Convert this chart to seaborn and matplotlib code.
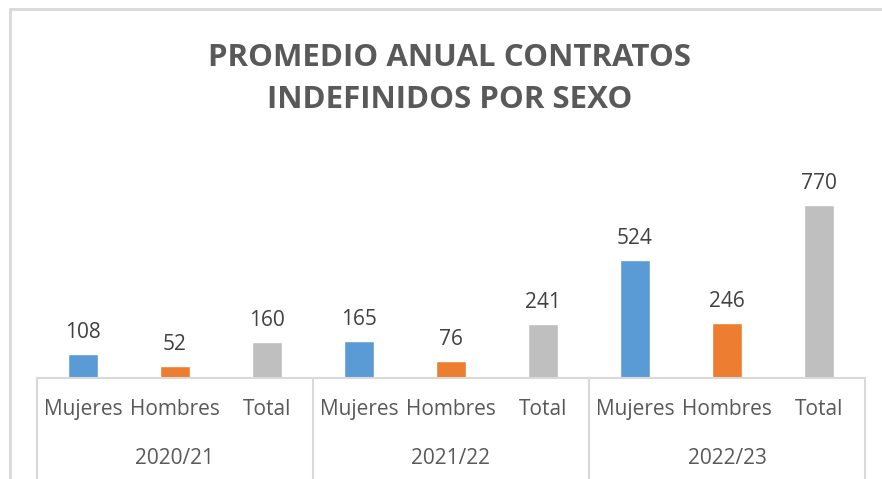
import matplotlib
matplotlib.use('Agg')
import matplotlib.pyplot as plt
import matplotlib.transforms as mtransforms
import seaborn as sns
import pandas as pd

periodos = ['2020/21', '2021/22', '2022/23']
sexos = ['Mujeres', 'Hombres', 'Total']
mujeres = [108, 165, 524]
hombres = [52, 76, 246]
totales = [160, 241, 770]
colores = {'Mujeres': '#5B9BD5', 'Hombres': '#ED7D31', 'Total': '#BFBFBF'}

rows = []
for i, p in enumerate(periodos):
    for s, v in zip(sexos, [mujeres[i], hombres[i], totales[i]]):
        rows.append({'periodo': p, 'sexo': s, 'clave': p + ' ' + s, 'valor': v})
df = pd.DataFrame(rows)

sns.set_style('white')
plt.rcParams['font.family'] = ['Open Sans', 'DejaVu Sans']

fig = plt.figure(figsize=(8.82, 4.79), dpi=100)
W, H = 882, 479
ax = fig.add_axes([37 / W, (H - 378) / H, (865 - 37) / W, (378 - 150) / H])

sns.barplot(data=df, x='clave', y='valor', hue='sexo', palette=colores,
            dodge=False, width=0.32, ax=ax, legend=False, saturation=1)

ax.set_ylim(0, 1015)
ax.set_xlim(-0.5, len(df) - 0.5)
ax.set_yticks([])
ax.set_xlabel('')
ax.set_ylabel('')
for sp in ['top', 'left', 'right']:
    ax.spines[sp].set_visible(False)
ax.spines['bottom'].set_color('#D9D9D9')
ax.spines['bottom'].set_linewidth(1.5)

ax.set_xticks(range(len(df)))
ax.set_xticklabels(df['sexo'], fontsize=15, color='#595959')
ax.tick_params(axis='x', length=0, pad=15)

for c in ax.containers:
    ax.bar_label(c, fontsize=15, color='#404040', padding=8)

trans = mtransforms.blended_transform_factory(ax.transData, fig.transFigure)
for i, p in enumerate(periodos):
    ax.text(i * 3 + 1, (H - 458) / H, p, transform=trans, ha='center', va='center',
            fontsize=15, color='#595959')
for k in range(len(periodos) + 1):
    ax.plot([k * 3 - 0.5, k * 3 - 0.5], [(H - 378) / H, 0.0], transform=trans,
            color='#D9D9D9', lw=1.5, clip_on=False)

fig.text(450 / W, (H - 79) / H, 'PROMEDIO ANUAL CONTRATOS\nINDEFINIDOS POR SEXO',
         ha='center', va='center', fontsize=22.5, fontweight='bold', color='#595959',
         linespacing=1.55)

# borde del gráfico
fig.add_artist(plt.Line2D([10 / W, 1.0], [(H - 9) / H, (H - 9) / H], color='#D9D9D9', lw=2))
fig.add_artist(plt.Line2D([10 / W, 10 / W], [0.0, (H - 9) / H], color='#D9D9D9', lw=2))

fig.savefig('out.png', dpi=100)
